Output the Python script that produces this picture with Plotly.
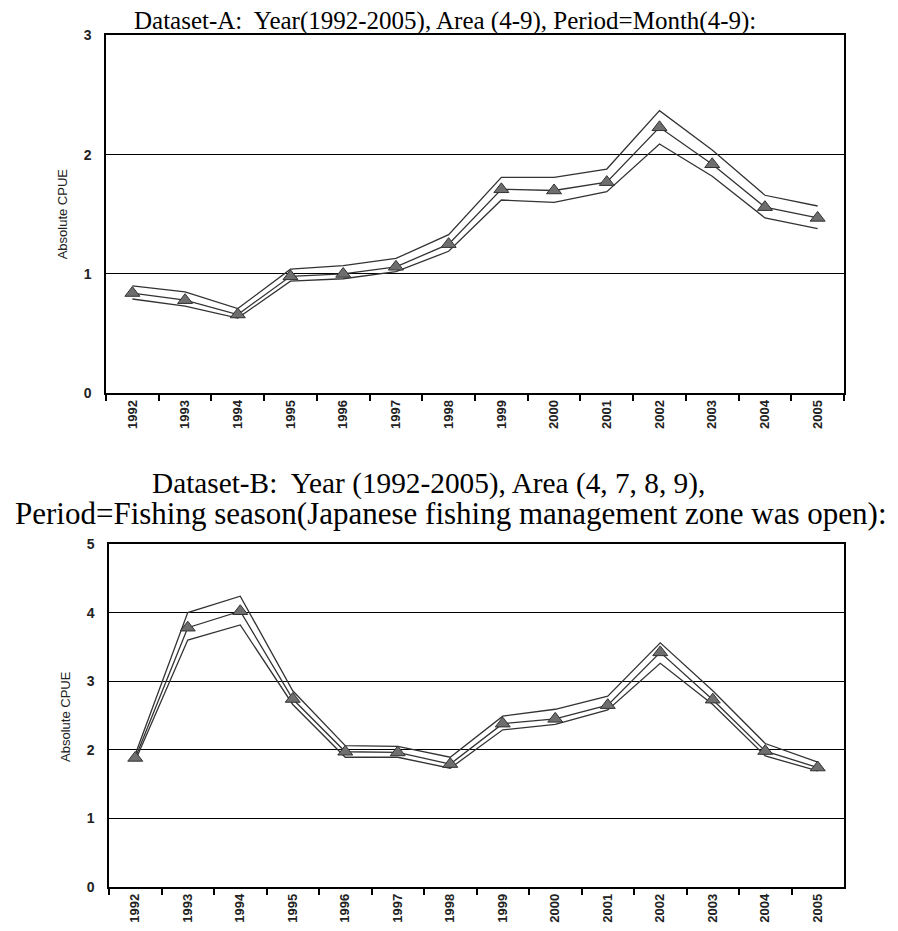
import plotly.graph_objects as go

years = [str(y) for y in range(1992, 2006)]

a_mid = [0.84, 0.78, 0.66, 0.98, 1.00, 1.06, 1.25, 1.71, 1.70, 1.77, 2.23, 1.92, 1.56, 1.47]
a_up = [0.90, 0.85, 0.71, 1.04, 1.07, 1.13, 1.33, 1.81, 1.81, 1.88, 2.37, 2.04, 1.66, 1.57]
a_lo = [0.79, 0.73, 0.63, 0.94, 0.96, 1.02, 1.19, 1.62, 1.60, 1.69, 2.09, 1.82, 1.47, 1.38]

b_mid = [1.88, 3.78, 4.02, 2.74, 1.97, 1.96, 1.79, 2.38, 2.45, 2.65, 3.42, 2.73, 1.98, 1.74]
b_up = [1.93, 4.00, 4.24, 2.86, 2.06, 2.05, 1.89, 2.49, 2.59, 2.78, 3.56, 2.86, 2.09, 1.82]
b_lo = [1.84, 3.60, 3.82, 2.66, 1.89, 1.89, 1.73, 2.29, 2.37, 2.58, 3.26, 2.66, 1.91, 1.69]

title_a = "Dataset-A:  Year(1992-2005), Area (4-9), Period=Month(4-9):"
title_b1 = "Dataset-B:  Year (1992-2005), Area (4, 7, 8, 9),"
title_b2 = "Period=Fishing season(Japanese fishing management zone was open):"
ytitle = "Absolute CPUE"

W, H = 882, 931
XOFF = 8
YOFF, YSCALE = 15.5, 0.9836
fig = go.Figure()

line_col = "#333333"
for (mid, up, lo, xa, ya) in [(a_mid, a_up, a_lo, "x", "y"), (b_mid, b_up, b_lo, "x2", "y2")]:
    for series in (up, lo):
        fig.add_trace(go.Scatter(x=years, y=series, mode="lines", xaxis=xa, yaxis=ya,
                                 line=dict(color=line_col, width=1.3), showlegend=False,
                                 hoverinfo="skip"))
    fig.add_trace(go.Scatter(x=years, y=mid, mode="lines+markers", xaxis=xa, yaxis=ya,
                             line=dict(color=line_col, width=1.3),
                             marker=dict(symbol="triangle-up", size=13, color="#6e6e6e",
                                         line=dict(color="#333333", width=1)),
                             showlegend=False))

def px(x):
    return (x - XOFF) / W

def py(y):
    return 1 - ((y - YOFF) / YSCALE) / H

xaxis_common = dict(type="category", range=[-0.5, 13.5], tickson="boundaries", ticks="outside",
                    ticklen=6, tickcolor="black", tickwidth=1.5, showline=True, mirror=True,
                    linecolor="black", linewidth=1.5, showgrid=False, tickangle=-90,
                    tickfont=dict(family="Arial", size=13, color="#222222", weight="bold"))
yaxis_common = dict(showline=True, mirror=True, linecolor="black", linewidth=1.5,
                    showgrid=True, gridcolor="black", gridwidth=1.2, zeroline=False,
                    ticks="", ticklabelstandoff=10,
                    tickfont=dict(family="Arial", size=14, color="#222222", weight="bold"))

fig.update_layout(
    width=W, height=H, margin=dict(l=0, r=0, t=0, b=0),
    paper_bgcolor="white", plot_bgcolor="white",
    xaxis=dict(domain=[px(106), px(844)], anchor="y", **xaxis_common),
    yaxis=dict(domain=[py(393), py(35)], anchor="x", range=[0, 3], dtick=1, **yaxis_common),
    xaxis2=dict(domain=[px(109), px(844)], anchor="y2", **xaxis_common),
    yaxis2=dict(domain=[py(887), py(544)], anchor="x2", range=[0, 5], dtick=1, **yaxis_common),
)

serif_a = dict(family="Liberation Serif, Times New Roman, serif", size=25, color="black")
serif_b1 = dict(family="Liberation Serif, Times New Roman, serif", size=29.3, color="black")
serif_b2 = dict(family="Liberation Serif, Times New Roman, serif", size=31, color="black")
ann = [
    dict(text=title_a, x=px(445), y=py(21), xref="paper", yref="paper", showarrow=False,
         font=serif_a, xanchor="center", yanchor="middle"),
    dict(text=title_b1, x=px(428), y=py(483), xref="paper", yref="paper", showarrow=False,
         font=serif_b1, xanchor="center", yanchor="middle"),
    dict(text=title_b2, x=px(451), y=py(513), xref="paper", yref="paper", showarrow=False,
         font=serif_b2, xanchor="center", yanchor="middle"),
    dict(text=ytitle, x=px(62), y=py(214), xref="paper", yref="paper", showarrow=False,
         textangle=-90, font=dict(family="Arial", size=13, color="#222222"),
         xanchor="center", yanchor="middle"),
    dict(text=ytitle, x=px(66), y=py(716), xref="paper", yref="paper", showarrow=False,
         textangle=-90, font=dict(family="Arial", size=13, color="#222222"),
         xanchor="center", yanchor="middle"),
]
fig.update_layout(annotations=ann)

fig.write_html("out.html")
